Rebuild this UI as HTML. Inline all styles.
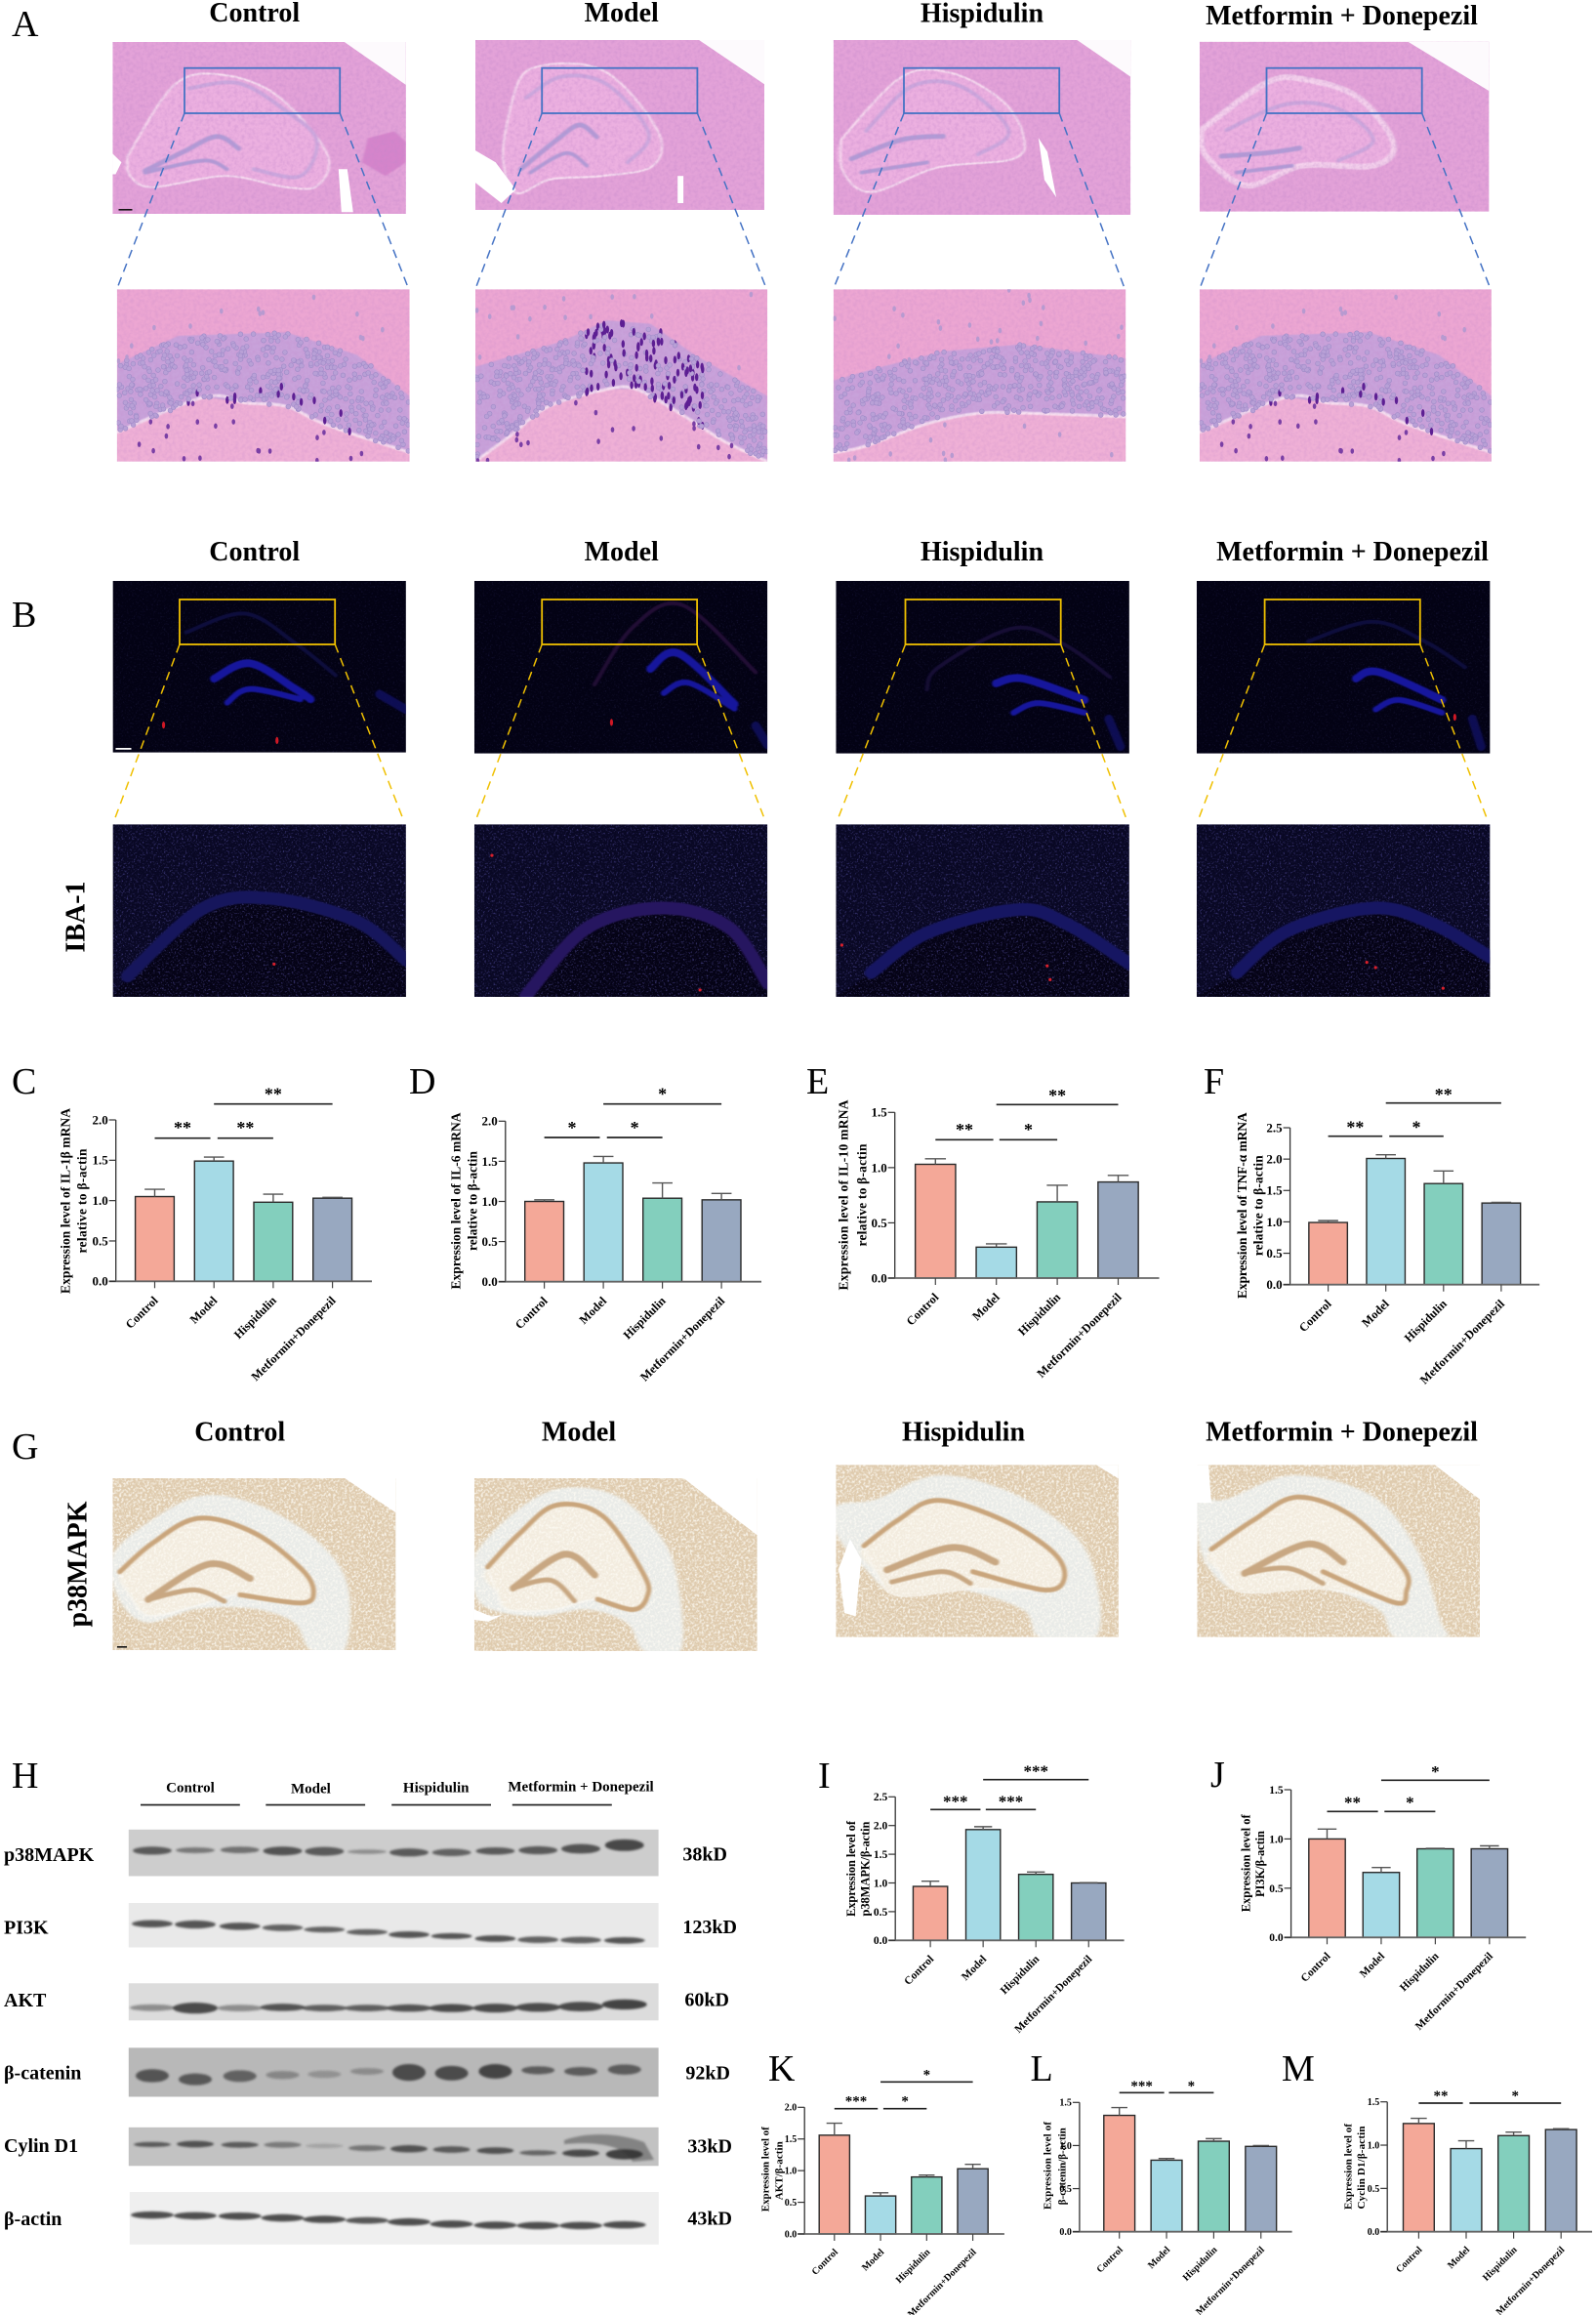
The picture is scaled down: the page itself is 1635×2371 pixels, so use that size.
<!DOCTYPE html>
<html lang="en">
<head>
<meta charset="utf-8">
<title>Hippocampal histology and expression figure</title>
<style>
html,body{margin:0;padding:0;background:#fff;}
svg#figure{display:block;}
#figure text{font-family:"Liberation Serif",serif;fill:#000;}
.panel-letter{font-size:38px;font-weight:400;}
.col-title{font-size:28px;font-weight:700;text-anchor:middle;}
.row-title{font-size:28px;font-weight:700;text-anchor:middle;}
.blot-label{font-size:20px;font-weight:700;}
.blot-head{font-size:15px;font-weight:700;text-anchor:middle;}
</style>
</head>
<body>
<svg id="figure" xmlns="http://www.w3.org/2000/svg" width="1635" height="2371" viewBox="0 0 1635 2371">
  <defs>
    <filter id="grain-pink" x="0" y="0" width="100%" height="100%"><feTurbulence type="fractalNoise" baseFrequency="0.28" numOctaves="2" seed="4"/><feColorMatrix values="0 0 0 0 .55  0 0 0 0 .25  0 0 0 0 .6  1.6 0 0 0 -.62"/></filter>
    <filter id="grain-tan" x="0" y="0" width="100%" height="100%"><feTurbulence type="fractalNoise" baseFrequency="0.42" numOctaves="2" seed="9"/><feColorMatrix values="0 0 0 0 .98  0 0 0 0 .96  0 0 0 0 .9  3 0 0 0 -1.3"/></filter>
    <filter id="grain-blue" x="0" y="0" width="100%" height="100%"><feTurbulence type="fractalNoise" baseFrequency="0.55" numOctaves="2" seed="7"/><feColorMatrix values="0 0 0 0 .16  0 0 0 0 .14  0 0 0 0 .6  3.4 0 0 0 -1.85"/></filter>
    <filter id="soft1" x="-20%" y="-40%" width="140%" height="180%"><feGaussianBlur stdDeviation="1.1"/></filter>
    <filter id="soft-a" x="-10%" y="-10%" width="120%" height="120%"><feGaussianBlur stdDeviation="0.35"/></filter>
    <filter id="soft-g" x="-10%" y="-10%" width="120%" height="120%"><feGaussianBlur stdDeviation="0.6"/></filter>
  </defs>

  <g id="micro-layer"></g>
  <g id="blot-layer"></g>
  <g id="chart-layer"></g>

  <g>
    <text class="panel-letter" x="12" y="37">A</text>
    <text class="panel-letter" x="12" y="642">B</text>
    <text class="panel-letter" x="12" y="1120">C</text>
    <text class="panel-letter" x="419" y="1120">D</text>
    <text class="panel-letter" x="826" y="1120">E</text>
    <text class="panel-letter" x="1233" y="1120">F</text>
    <text class="panel-letter" x="12" y="1494">G</text>
    <text class="panel-letter" x="12" y="1831">H</text>
    <text class="panel-letter" x="838" y="1831">I</text>
    <text class="panel-letter" x="1240" y="1830">J</text>
    <text class="panel-letter" x="787" y="2131">K</text>
    <text class="panel-letter" x="1055.5" y="2131">L</text>
    <text class="panel-letter" x="1313" y="2131">M</text>
  </g>

  <g>
    <text class="col-title" x="260.7" y="22">Control</text>
    <text class="col-title" x="636.7" y="22">Model</text>
    <text class="col-title" x="1006" y="22.5">Hispidulin</text>
    <text class="col-title" x="1374.5" y="25">Metformin + Donepezil</text>
  </g>
  <g>
    <text class="col-title" x="260.7" y="574">Control</text>
    <text class="col-title" x="636.7" y="574">Model</text>
    <text class="col-title" x="1006" y="574">Hispidulin</text>
    <text class="col-title" x="1385.5" y="574">Metformin + Donepezil</text>
  </g>
  <g>
    <text class="col-title" x="245.7" y="1475.5">Control</text>
    <text class="col-title" x="593" y="1475.5">Model</text>
    <text class="col-title" x="987" y="1475.5">Hispidulin</text>
    <text class="col-title" x="1374.5" y="1475.5">Metformin + Donepezil</text>
  </g>
  <text class="row-title" transform="translate(86.6,939) rotate(-90)">IBA-1</text>
  <text class="row-title" transform="translate(88.5,1602) rotate(-90)">p38MAPK</text>

  <g>
    <text class="blot-head" x="195" y="1835.4">Control</text>
    <text class="blot-head" x="318.4" y="1836.4">Model</text>
    <text class="blot-head" x="446.7" y="1835.4">Hispidulin</text>
    <text class="blot-head" x="595" y="1834.4">Metformin + Donepezil</text>
    <rect x="144" y="1847.7" width="101.8" height="1.7" fill="#222"/>
    <rect x="272.3" y="1847.7" width="101.8" height="1.7" fill="#222"/>
    <rect x="401.2" y="1847.7" width="101.8" height="1.7" fill="#222"/>
    <rect x="524.8" y="1847.7" width="102" height="1.7" fill="#222"/>
  </g>
  <g>
    <text class="blot-label" x="4" y="1906.2">p38MAPK</text>
    <text class="blot-label" x="4" y="1980.7">PI3K</text>
    <text class="blot-label" x="4" y="2055.2">AKT</text>
    <text class="blot-label" x="4" y="2129.7">β-catenin</text>
    <text class="blot-label" x="4" y="2204">Cylin D1</text>
    <text class="blot-label" x="4" y="2279">β-actin</text>
  </g>
  <g>
    <text class="blot-label" x="699.4" y="1905.5">38kD</text>
    <text class="blot-label" x="699.4" y="1980">123kD</text>
    <text class="blot-label" x="701.4" y="2054.4">60kD</text>
    <text class="blot-label" x="702.4" y="2129.7">92kD</text>
    <text class="blot-label" x="704.4" y="2204.5">33kD</text>
    <text class="blot-label" x="704.4" y="2278.6">43kD</text>
  </g>
</svg>

<script>
/* ---------- chart data ---------- */
const categories = ['Control', 'Model', 'Hispidulin', 'Metformin+Donepezil'];

const il1bValues = [1.05, 1.49, 0.98, 1.03];
const il1bErrors = [0.09, 0.05, 0.10, 0.01];
const il6Values = [1.00, 1.48, 1.04, 1.02];
const il6Errors = [0.02, 0.08, 0.19, 0.08];
const il10Values = [1.03, 0.28, 0.69, 0.87];
const il10Errors = [0.05, 0.03, 0.15, 0.06];
const tnfValues = [0.99, 2.01, 1.61, 1.30];
const tnfErrors = [0.03, 0.06, 0.20, 0.01];
const p38Values = [0.94, 1.93, 1.15, 1.00];
const p38Errors = [0.09, 0.05, 0.04, 0.005];
const pi3kValues = [1.00, 0.66, 0.90, 0.90];
const pi3kErrors = [0.10, 0.05, 0.005, 0.03];
const aktValues = [1.56, 0.60, 0.90, 1.03];
const aktErrors = [0.19, 0.05, 0.03, 0.07];
const cateninValues = [1.35, 0.83, 1.05, 0.99];
const cateninErrors = [0.09, 0.02, 0.03, 0.01];
const cyclinValues = [1.25, 0.96, 1.11, 1.18];
const cyclinErrors = [0.06, 0.09, 0.04, 0.01];

const ticksTo15 = [0, 0.5, 1.0, 1.5];
const ticksTo20 = [0, 0.5, 1.0, 1.5, 2.0];
const ticksTo25 = [0, 0.5, 1.0, 1.5, 2.0, 2.5];

const barColors = ['#f4a898', '#a5dae6', '#83cfbd', '#98a8c0'];

/* ---------- chart layouts ---------- */
const charts = [
 {id:'il-1b', values:il1bValues, errors:il1bErrors, ticks:ticksTo20, x0:118.7, xEnd:381, y0:1312.3, yTop:1147, cat0:158.5, step:60.7, bw:39.8, fs:12.3, tick:13,
  title:[['Expression level of IL-1β mRNA',66.7,1230,190,13.5],['relative to β-actin',83.6,1230,107,13.5]],
  sig:[[1,3,1130.7,'**',1118],[0,0.94,1165.7,'**',1152.7],[1.06,2,1165.7,'**',1152.7]], star:18},
 {id:'il-6', values:il6Values, errors:il6Errors, ticks:ticksTo20, x0:517.8, xEnd:780, y0:1312.7, yTop:1148.3, cat0:557.6, step:60.5, bw:39.8, fs:12.3, tick:13,
  title:[['Expression level of IL-6 mRNA',466.6,1230,181,13.5],['relative to β-actin',483.5,1230,102,13.5]],
  sig:[[1,3,1130.7,'*',1118],[0,0.94,1165,'*',1152.7],[1.06,2,1165,'*',1152.7]], star:18},
 {id:'il-10', values:il10Values, errors:il10Errors, ticks:ticksTo15, x0:916.7, xEnd:1187.5, y0:1309, yTop:1139.3, cat0:958.3, step:62.4, bw:41.3, fs:12.3, tick:13,
  title:[['Expression level of IL-10 mRNA',863.8,1224,195,13.5],['relative to β-actin',882.4,1224,105,13.5]],
  sig:[[1,3,1131.3,'**',1119.3],[0,0.95,1167.3,'**',1154.7],[1.05,2,1167.3,'*',1154.7]], star:18},
 {id:'tnf-a', values:tnfValues, errors:tnfErrors, ticks:ticksTo25, x0:1321.6, xEnd:1577.1, y0:1315.7, yTop:1155, cat0:1360.6, step:59.1, bw:39.5, fs:12.3, tick:13,
  title:[['Expression level of TNF-α mRNA',1272.2,1234.7,190.7,13.5],['relative to β-actin',1288.6,1234.7,103,13.5]],
  sig:[[1,3,1129.7,'**',1118.3],[0,0.94,1163.7,'**',1152],[1.06,2,1163.7,'*',1152]], star:18},
 {id:'p38mapk', values:p38Values, errors:p38Errors, ticks:ticksTo25, x0:917.2, xEnd:1151.6, y0:1987.3, yTop:1840.3, cat0:953.1, step:54.05, bw:35.3, fs:11.3, tick:11.5,
  title:[['Expression level of',871.7,1914,98,12.5],['p38MAPK/β-actin',886,1914,97,12.5]],
  sig:[[1,3,1822.7,'***',1811.7],[0,0.95,1853.3,'***',1842.3],[1.05,2,1853.3,'***',1842.3]], star:17},
 {id:'pi3k', values:pi3kValues, errors:pi3kErrors, ticks:ticksTo15, x0:1322.6, xEnd:1563.2, y0:1984.3, yTop:1833, cat0:1359.5, step:55.45, bw:37.4, fs:11.3, tick:11.5,
  title:[['Expression level of',1275.9,1908.3,100,12.5],['PI3K/β-actin',1290.4,1909,68,12.5]],
  sig:[[1,3,1823.3,'*',1812],[0,0.94,1855.3,'**',1843.7],[1.06,2,1855.3,'*',1843.7]], star:17},
 {id:'akt', values:aktValues, errors:aktErrors, ticks:ticksTo20, x0:824.2, xEnd:1028.9, y0:2288, yTop:2158.3, cat0:854.8, step:47.26, bw:31.2, fs:10, tick:10,
  title:[['Expression level of',783.5,2221.7,87,11],['AKT/β-actin',797.4,2223.3,60,11]],
  sig:[[1,3,2132.3,'*',2122.3],[0,0.94,2159.7,'***',2149.3],[1.06,2,2159.7,'*',2149.3]], star:15},
 {id:'beta-catenin', values:cateninValues, errors:cateninErrors, ticks:ticksTo15, x0:1105.9, xEnd:1323.6, y0:2285.7, yTop:2153.3, cat0:1146.7, step:48.35, bw:31.8, fs:10, tick:10,
  title:[['Expression level of',1072.4,2218,90,11],['β-catenin/β-actin',1087.5,2218.7,79,11]],
  sig:[[0,0.95,2143.3,'***',2133.7],[1.05,2,2143.3,'*',2133.7]], star:15},
 {id:'cyclin-d1', values:cyclinValues, errors:cyclinErrors, ticks:ticksTo15, x0:1421.2, xEnd:1631, y0:2285.7, yTop:2152.7, cat0:1453.4, step:48.6, bw:31.8, fs:10, tick:10,
  title:[['Expression level of',1380.5,2219,88,11],['Cyclin D1/β-actin',1393.8,2220,85,11]],
  sig:[[0,0.93,2154,'**',2144],[1.07,3,2154,'*',2144]], star:15}
];

const NS = 'http://www.w3.org/2000/svg';
function make(tag, attrs, parent) {
  const el = document.createElementNS(NS, tag);
  for (const k in attrs) el.setAttribute(k, attrs[k]);
  if (parent) parent.appendChild(el);
  return el;
}

/* ---------- bar charts ---------- */
function drawChart(c) {
  const layer = document.getElementById('chart-layer');
  const g = make('g', {}, layer);
  
  
  const yMax = Math.max.apply(null, c.ticks);
  const yScale = v => c.y0 - (v / yMax) * (c.y0 - c.yTop);
  const xScale = i => c.cat0 + i * c.step;

  c.values.forEach((v, i) => {
    const bar = make('rect', {x: xScale(i) - c.bw / 2, y: yScale(v), width: c.bw, height: c.y0 - yScale(v), fill: barColors[i], stroke: '#2a2a2a', 'stroke-width': 1.4}, g);
    
    
    const topY = yScale(v + c.errors[i]);
    const capW = c.bw * 0.26;
    const err = make('path', {d: 'M' + xScale(i) + ',' + yScale(v) + 'V' + topY + 'M' + (xScale(i) - capW) + ',' + topY + 'H' + (xScale(i) + capW), fill: 'none', stroke: '#555', 'stroke-width': 1.4}, g);
    
    
  });

  const yAxis = make('line', {x1: c.x0, x2: c.x0, y1: c.yTop, y2: c.y0, stroke: '#333', 'stroke-width': 1.3}, g);
  
  
  const xAxis = make('line', {x1: c.x0 - 7, x2: c.xEnd, y1: c.y0, y2: c.y0, stroke: '#666', 'stroke-width': 1.8}, g);
  
  

  c.ticks.forEach(t => {
    const tm = make('line', {x1: c.x0 - 7, x2: c.x0, y1: yScale(t), y2: yScale(t), stroke: '#333', 'stroke-width': 1.2}, g);
    
    
    const lbl = make('text', {x: c.x0 - 8, y: yScale(t) + c.tick * 0.34, 'text-anchor': 'end', 'font-size': c.tick, 'font-weight': 700}, g);
    lbl.textContent = t.toFixed(1);
    
    
  });

  categories.forEach((name, i) => {
    const tm = make('line', {x1: xScale(i), x2: xScale(i), y1: c.y0, y2: c.y0 + 7, stroke: '#444', 'stroke-width': 1.2}, g);
    
    
    const lx = xScale(i) + 4, ly = c.y0 + 13 + c.fs * 0.6;
    const lbl = make('text', {x: lx, y: ly, 'text-anchor': 'end', 'font-size': c.fs, 'font-weight': 700, transform: 'rotate(-45 ' + lx + ' ' + ly + ')'}, g);
    lbl.textContent = name;
    
    
  });

  c.title.forEach((t, i) => {
    const lbl = make('text', {transform: 'translate(' + (t[1] + t[4] * 0.36) + ',' + t[2] + ') rotate(-90)', 'text-anchor': 'middle', 'font-size': t[4], 'font-weight': 700, textLength: t[3], lengthAdjust: 'spacing'}, g);
    lbl.textContent = t[0];
    
    
  });

  c.sig.forEach(s => {
    const line = make('line', {x1: xScale(s[0]), x2: xScale(s[1]), y1: s[2], y2: s[2], stroke: '#222', 'stroke-width': 1.7}, g);
    
    
    const star = make('text', {x: (xScale(s[0]) + xScale(s[1])) / 2, y: s[4] + c.star * 0.47, 'text-anchor': 'middle', 'font-size': c.star, 'font-weight': 700}, g);
    star.textContent = s[3];
    
    
  });
}
charts.forEach(drawChart);

/* ---------- drawing helpers for micrographs ---------- */
function smooth(p, closed) {
  const n = p.length, at = i => closed ? p[(i + n) % n] : p[Math.max(0, Math.min(n - 1, i))];
  let d = 'M' + p[0][0] + ',' + p[0][1];
  const end = closed ? n : n - 1;
  for (let i = 0; i < end; i++) {
    const a = at(i - 1), b = at(i), c = at(i + 1), e = at(i + 2);
    d += 'C' + (b[0] + (c[0] - a[0]) / 6).toFixed(2) + ',' + (b[1] + (c[1] - a[1]) / 6).toFixed(2) + ' ' +
         (c[0] - (e[0] - b[0]) / 6).toFixed(2) + ',' + (c[1] - (e[1] - b[1]) / 6).toFixed(2) + ' ' + c[0] + ',' + c[1];
  }
  return d + (closed ? 'Z' : '');
}
function rng(seed) { let s = seed; return () => (s = (s * 1664525 + 1013904223) % 4294967296) / 4294967296; }
function unit(parent) { return make('svg', {x: 0, y: 0, width: '100%', height: '100%', viewBox: '0 0 100 100', preserveAspectRatio: 'none'}, parent); }
function stroke(parent, pts, color, w, op) { return make('path', {d: smooth(pts), fill: 'none', stroke: color, 'stroke-width': w, 'stroke-linecap': 'round', 'stroke-linejoin': 'round', opacity: op == null ? 1 : op, 'vector-effect': 'non-scaling-stroke'}, parent); }
function area(parent, d, color, op) { return make('path', {d: d, fill: color, opacity: op == null ? 1 : op}, parent); }
function panel(box, name) {
  const el = make('svg', {x: box[0], y: box[1], width: box[2], height: box[3]}, document.getElementById('micro-layer'));
  
  
  return el;
}
function zoomFrame(rectBox, lowBox, color, name) {
  const layer = document.getElementById('micro-layer');
  const frame = make('rect', {x: rectBox[0], y: rectBox[1], width: rectBox[2], height: rectBox[3], fill: 'none', stroke: color, 'stroke-width': 1.8}, layer);
  
  
  const endY = lowBox[1] - 3;
  const dash = make('path', {d: 'M' + rectBox[0] + ',' + (rectBox[1] + rectBox[3]) + 'L' + (lowBox[0] + 1) + ',' + endY + 'M' + (rectBox[0] + rectBox[2]) + ',' + (rectBox[1] + rectBox[3]) + 'L' + (lowBox[0] + lowBox[2] - 2) + ',' + endY, fill: 'none', stroke: color, 'stroke-width': 1.5, 'stroke-dasharray': '9 6'}, layer);
  
  
}

/* ---------- panel A: H&E ---------- */
const heTopBoxes = [[115.4,43,300.5,176],[487,41,296,174],[853.8,41,304.4,179],[1228.9,42.7,296.5,174]];
const heLowBoxes = [[119.8,296.3,299.8,176.4],[487,296.3,299.2,176.4],[853.8,296.3,299.5,176.4],[1228.9,296.3,299,176.4]];
const heRects = [[189,69.7,159.2,46.3],[555.2,69.7,159.2,46.3],[926,69.7,159.2,46.3],[1297.5,69.7,159.2,46.3]];
const heShapes = [
 {blob:[[5,66.5],[21,25],[37,19],[56,31],[73,64.6],[70,83.5],[59,84.5],[38.5,78],[13.8,84.5],[6,78]],
  ca:[[26,27],[43,24],[59,40],[69.5,57],[64,78],[48,74]], dg1:[[11,75],[24,64],[35.5,55],[43,62]], dg2:[[11,76],[31,69],[39,74]],
  corner:'M79,0L100,25V0Z', whites:['M77,74L80,74L82,99L78,99Z','M0,65L3,70L1,77L0,77Z'], blotch:'M87,56L96,52L100,58V70L93,78L85,70Z'},
 {blob:[[12,40],[19,17],[44,17.7],[63,53],[61.5,74],[44,80],[26,82],[14,90],[9.5,68.5]],
  ca:[[17.5,34],[30,21.5],[45.7,26.3],[60,55],[52.7,72]], dg1:[[15.7,76],[28,59],[36,50],[42,57]], dg2:[[19,78],[31.3,66.6],[38.6,74]],
  corner:'M77.4,0L100,26V0Z', whites:['M0,65L7,72L14,88L9,96L0,84Z','M70,80L72,80L72,96L70,96Z'], blotch:''},
 {blob:[[2.5,57],[23,21],[40,19],[57,35],[64,55],[60.6,68],[35,73],[13,87],[3.4,76]],
  ca:[[11,52],[26.5,26.4],[43.5,27],[59,52],[48.6,65.5]], dg1:[[6,68],[23,57],[37,55]], dg2:[[9.4,75.8],[31.6,70]],
  corner:'M82,0L100,21V0Z', whites:['M69,56L72,64L75,90L71,80Z'], blotch:''},
 {blob:[[0.5,52],[23.3,24],[37,22.4],[55,33],[67,60],[60,73],[35.6,73],[16.3,84.7],[2.3,67.4]],
  ca:[[9.3,52],[30,36.8],[48,39.7],[60,58],[48,70]], dg1:[[7.5,67.4],[23,65.5],[34.7,62.6]], dg2:[[12.8,77],[32,73]],
  corner:'M72,0L100,29V0Z', whites:[], blotch:''}
];
heShapes.forEach((s, i) => {
  const p = panel(heTopBoxes[i], 'he-overview-' + categories[i].toLowerCase());
  make('rect', {width: '100%', height: '100%', fill: '#e3a2d8'}, p);
  const u = unit(p);
  const soft = make('g', {filter: 'url(#soft-a)'}, u);
  if (s.blotch) area(soft, s.blotch, '#d584cb');
  area(soft, smooth(s.blob, true), '#ecb0e0');
  stroke(soft, s.blob.concat([s.blob[0]]), '#fbeaf6', i === 3 ? 6 : 1.8, i === 3 ? .6 : .9);
  stroke(soft, s.ca, '#cba7dd', 4);
  stroke(soft, s.dg1, '#b09bd6', 5);
  stroke(soft, s.dg2, '#b09bd6', 4);
  make('rect', {width: '100%', height: '100%', filter: 'url(#grain-pink)', opacity: .5}, p);
  const w = unit(p);
  area(w, s.corner, '#fdfafd');
  s.whites.forEach(d => area(w, d, '#fff'));
});
make('rect', {x: 121.5, y: 214, width: 14, height: 1.6, fill: '#111'}, document.getElementById('micro-layer'));

const heBandTop = [[[0,43.5],[21,27],[58,25],[82,38],[100,62]], [[0,45],[30,30],[45,18],[60,20],[75,38],[100,62]], [[0,53],[15,45.6],[37.7,36],[63.8,32],[100,40]], [[0,43.5],[21,27],[58,25],[82,38],[100,62]]];
const heBandBot = [[[0,83],[30,62.5],[44,66],[58,68],[72,79],[100,94.7]], [[0,100],[12,85],[25,68],[45,58],[55,58],[70,72],[85,88],[100,100]], [[0,95],[11,91],[32,78],[49.6,72],[67,72],[100,74]], [[0,83],[30,62.5],[44,66],[58,68],[72,79],[100,94.7]]];
function along(poly, x) {
  for (let i = 0; i < poly.length - 1; i++) if (x <= poly[i + 1][0]) {
    const a = poly[i], b = poly[i + 1];
    return a[1] + (b[1] - a[1]) * (x - a[0]) / (b[0] - a[0]);
  }
  return poly[poly.length - 1][1];
}
heLowBoxes.forEach((box, i) => {
  const p = panel(box, 'he-zoom-' + categories[i].toLowerCase());
  const W = box[2] / 100, H = box[3] / 100;
  make('rect', {width: '100%', height: '100%', fill: '#eca6d2'}, p);
  const u = unit(p);
  const soft = make('g', {filter: 'url(#soft-a)'}, u);
  const top = heBandTop[i], bot = heBandBot[i];
  area(soft, 'M0,100' + bot.map(q => 'L' + q[0] + ',' + q[1]).join('') + 'L100,100Z', '#efb0d6');
  area(soft, 'M' + top.map(q => q[0] + ',' + q[1]).join('L') + 'L' + bot.slice().reverse().map(q => q[0] + ',' + q[1]).join('L') + 'Z', '#c8a2da');
  stroke(soft, bot, '#fff1f8', 3, .75);
  make('rect', {width: '100%', height: '100%', filter: 'url(#grain-pink)', opacity: .35}, p);
  const r = rng(17 + (i === 3 ? 0 : i));
  for (let k = 0; k < 520; k++) {
    const x = r() * 100, s = r(), t = along(top, x), b = along(bot, x), y = t + s * (b - t);
    const hot = i === 1 ? (x > 38 && x < 78 && r() < .5) : (i === 2 ? false : (s > .72 && x > 22 && x < 85 && r() < .14));
    make('ellipse', {cx: (x * W).toFixed(1), cy: (y * H).toFixed(1), rx: hot ? 1.7 : 2.4, ry: hot ? 4 : 2.4, fill: hot ? '#5d1f93' : '#b8a0d6', stroke: hot ? 'none' : '#a08bc8', 'stroke-width': .6}, p);
  }
  for (let k = 0; k < 34; k++) {
    const x = r() * 100, below = r() < .5, y = below ? along(bot, x) + r() * (100 - along(bot, x)) : r() * along(top, x);
    make('ellipse', {cx: (x * W).toFixed(1), cy: (y * H).toFixed(1), rx: 1.8, ry: 2.8, fill: below && i !== 2 ? '#7a3fa5' : '#b79ad0'}, p);
  }
});
heRects.forEach((r, i) => zoomFrame(r, heLowBoxes[i], '#4472c4', 'he-' + categories[i].toLowerCase()));

/* ---------- panel B: immunofluorescence ---------- */
const ifTopBoxes = [[115.6,595,300.3,175.7],[485.9,595,300.3,176.7],[856.4,595,300.5,176.7],[1225.9,595,300.5,176.7]];
const ifLowBoxes = [[115.6,844.3,300.3,176.7],[485.9,844.3,300.3,176.7],[856.4,844.3,300.5,176.7],[1225.9,844.3,300.5,176.7]];
const ifRects = [[184,614,159.2,46],[555.2,614,158.9,46],[927.5,614,159.2,46],[1295.6,614,159.2,46]];
const ifShapes = [
 {arch:[[25,30],[45,19],[62,36],[76,55]], archColor:'#0e0c3c', dg1:[[34.5,57],[46.7,48],[62.3,63],[67.5,69]], dg2:[[39,71],[46.7,63],[64,69]], extra:[[91,66],[100,75]], reds:[[17.3,84],[56,93]]},
 {arch:[[41,60],[54,27],[71,14],[96,53]], archColor:'#220c36', dg1:[[60,51],[69.7,42],[88.8,71.4]], dg2:[[64.6,65],[73,59],[88.8,74]], extra:[[96,84],[100,95]], reds:[[46.8,82]]},
 {arch:[[31,63],[35,50],[60.5,27.4],[78,37],[93.4,55.7]], archColor:'#140c34', dg1:[[54.5,59.4],[64,56.6],[84.8,69]], dg2:[[60.5,76.4],[69,70.8],[84.8,76.4]], extra:[[93,80],[97,96]], reds:[]},
 {arch:[[38,35],[60,23.6],[77.7,35],[91.5,50]], archColor:'#0e0c3c', dg1:[[54.3,56.6],[62,52.8],[83.7,69]], dg2:[[61,74.5],[69,69],[83.7,76.4]], extra:[[94,80],[97,96]], reds:[[88,79]]}
];
ifShapes.forEach((s, i) => {
  const p = panel(ifTopBoxes[i], 'if-overview-' + categories[i].toLowerCase());
  make('rect', {width: '100%', height: '100%', fill: '#030214'}, p);
  make('rect', {width: '100%', height: '100%', filter: 'url(#grain-blue)', opacity: .14}, p);
  const u = unit(p);
  const soft = make('g', {filter: 'url(#soft-a)'}, u);
  stroke(soft, s.arch, s.archColor, 4);
  stroke(soft, s.dg1, '#15159c', 8);
  stroke(soft, s.dg2, '#15159c', 6);
  stroke(soft, s.extra, '#100e62', 9, .8);
  s.reds.forEach(q => {
    make('ellipse', {cx: q[0] * ifTopBoxes[i][2] / 100, cy: q[1] * ifTopBoxes[i][3] / 100, rx: 1.6, ry: 3.6, fill: '#d01825'}, p);
  });
});
make('rect', {x: 118.5, y: 766, width: 16, height: 1.8, fill: '#fff'}, document.getElementById('micro-layer'));

const ifLowArches = [
 [[5,88],[31,48.5],[54,43],[83,56],[100,78.7]],
 [[17.6,99.4],[38.5,60],[64.6,48.5],[87,60],[100,92]],
 [[12,86],[31,63],[62,49.4],[79,58],[100,80.7]],
 [[13.7,86],[31,61.7],[60.4,48.5],[81,58],[100,77]]
];
const ifLowColors = ['#17165c', '#281760', '#191862', '#191862'];
const ifLowReds = [[[55,81]], [[77,96],[6,18]], [[2,70],[72,82],[73,90]], [[58,80],[61,83],[84,95]]];
ifLowArches.forEach((a, i) => {
  const p = panel(ifLowBoxes[i], 'if-zoom-' + categories[i].toLowerCase());
  make('rect', {width: '100%', height: '100%', fill: '#090824'}, p);
  const u = unit(p);
  area(u, 'M0,100L' + a.map(q => q[0] + ',' + q[1]).join('L') + 'L100,100Z', '#050316');
  make('rect', {width: '100%', height: '100%', filter: 'url(#grain-blue)', opacity: .55}, p);
  const v = unit(p);
  const soft = make('g', {filter: 'url(#soft-a)'}, v);
  stroke(soft, a, ifLowColors[i], 13);
  ifLowReds[i].forEach(q => {
    make('circle', {cx: q[0] * ifLowBoxes[i][2] / 100, cy: q[1] * ifLowBoxes[i][3] / 100, r: 1.6, fill: '#d8202c'}, p);
  });
});
ifRects.forEach((r, i) => zoomFrame(r, ifLowBoxes[i], '#f0c000', 'if-' + categories[i].toLowerCase()));

/* ---------- panel G: p38MAPK IHC ---------- */
const ihcBoxes = [[115.4,1514,290,176],[485.9,1514,289.8,177],[856.4,1500.3,289.5,176.4],[1226.5,1500.3,289.5,176.4]];
const ihcShapes = [
 {halo:[[0,45],[14,24],[32,10],[52,16],[72,36],[83,62],[82,100],[70,100],[64,84],[50,76],[30,76],[12,84],[2,70]],
  inner:[[2.5,54.5],[14,37.9],[30.3,23.3],[50,31.8],[66.6,52.7],[71,66],[66.6,72.6],[44.9,67.8],[30,74],[13,80],[6,68]],
  arch:[[2.5,54.5],[14,37.9],[30.3,23.3],[50,31.8],[66.6,52.7],[71,66],[66.6,72.6],[44.9,67.8]],
  dg1:[[48.6,58.3],[34,50],[12.5,70.6]], dg2:[[12.5,70.6],[28.7,65],[39.5,71.6]], corner:'M82,0L100,20V0Z', whites:[]},
 {halo:[[0,45],[14,20],[30,6],[50,10],[66,34],[72,60],[73,100],[60,100],[54,84],[40,76],[22,80],[6,76],[0,66]],
  inner:[[4.7,51.4],[29,15.6],[45.5,22],[60,56],[61,69],[56,76],[43.5,70],[28,76],[12,76],[8,66]],
  arch:[[4.7,51.4],[16,32],[29,15.6],[45.5,22],[60,56],[61,69],[56,76],[43.5,70]],
  dg1:[[42.6,56],[31.8,44],[13.7,63.6]], dg2:[[13.7,63.6],[27,59],[35.4,71]], corner:'M74,0L100,33V0Z', whites:['M0,76L6,80L10,79L5,83L0,82Z']},
 {halo:[[0,24],[14,20],[36,6],[62,16],[84,40],[92,66],[92,100],[72,100],[66,84],[42,72],[22,76],[10,60],[0,40]],
  inner:[[9.9,47],[36,20.6],[59,32],[77,51],[80.8,66],[73.6,72.6],[48.4,72],[22,76],[14,62]],
  arch:[[9.9,47],[22,32],[36,20.6],[59,32],[77,51],[80.8,66],[73.6,72.6],[48.4,62]],
  dg1:[[56.5,56.5],[41,48],[18,61]], dg2:[[19.7,68],[37.7,62],[47.6,68.8]], corner:'M92,0L100,8V0Z', whites:['M5,43L9,55L8,70L7,88L3,86L1,60Z']},
 {halo:[[0,20],[10,20],[34,6],[62,18],[78,50],[86,90],[88,100],[70,100],[64,84],[44,72],[16,74],[4,60],[0,40]],
  inner:[[5,49],[35.5,18.7],[55,30],[73,60],[74,73.5],[70,80],[44.5,72],[16,74],[8,62]],
  arch:[[5,49],[20,32],[35.5,18.7],[55,30],[73,60],[74,73.5],[70,80],[44.5,62]],
  dg1:[[51.7,56.5],[39,46],[16.7,63]], dg2:[[16.7,63],[32,60],[44.5,68.8]], corner:'M84,0L100,20V0Z', whites:['M0,0H4L5,22L0,22Z']}
];
ihcShapes.forEach((s, i) => {
  const p = panel(ihcBoxes[i], 'ihc-p38mapk-' + categories[i].toLowerCase());
  make('rect', {width: '100%', height: '100%', fill: '#dfcbae'}, p);
  const u = unit(p);
  const soft = make('g', {filter: 'url(#soft-g)'}, u);
  area(soft, smooth(s.halo, true), '#e9ebe8');
  area(soft, smooth(s.inner, true), '#f3ecdf');
  make('rect', {width: '100%', height: '100%', filter: 'url(#grain-tan)', opacity: .85}, p);
  const v = unit(p);
  const band = make('g', {filter: 'url(#soft-a)'}, v);
  stroke(band, s.inner.concat([s.inner[0]]), '#fbf9f5', 1.6, .7);
  stroke(band, s.arch, '#c9a57c', 5);
  stroke(band, s.dg1, '#c8a782', 7);
  stroke(band, s.dg2, '#c8a782', 5);
  area(v, s.corner, '#fff');
  s.whites.forEach(d => area(v, d, '#fff'));
});
make('rect', {x: 120, y: 1686, width: 10, height: 1.6, fill: '#111'}, document.getElementById('micro-layer'));

/* ---------- panel H: western blots ---------- */
const laneCenters = [156, 200, 245.7, 289.5, 332.3, 376, 419, 462.6, 507.4, 551.2, 595, 639.7];
const blotRows = [
 {name:'p38mapk', box:[131.8,1873.8,542.8,47.7], bg:'#cdcdcd', rx:20,
  y:[283,282,281,284,285,286,288,288,284,282,278,268], t:[20,14,16,22,22,10,20,18,18,20,24,30], d:[.72,.52,.58,.76,.72,.4,.72,.66,.72,.72,.76,.82]},
 {name:'pi3k', box:[131.8,1949,542.8,45.5], bg:'#e9e9e9', rx:21,
  y:[484,486,491,495,500,507,514,518,525,528,529,530], t:[18,20,18,16,14,14,16,14,16,16,16,16], d:[.78,.78,.78,.72,.72,.72,.78,.78,.78,.72,.72,.78]},
 {name:'akt', box:[131.8,2031.3,542.8,38], bg:'#dcdcdc', rx:23,
  y:[715,716,716,714,716,716,716,716,716,714,712,706], t:[16,28,16,18,16,16,18,20,22,22,24,26], d:[.45,.82,.45,.78,.72,.72,.78,.82,.82,.82,.82,.88]},
 {name:'beta-catenin', box:[131.8,2097.3,542.8,50.2], bg:'#b8b8b8', rx:17,
  y:[902,912,903,900,898,890,893,895,890,887,890,885], t:[34,30,30,20,18,16,44,38,38,20,22,26], d:[.72,.68,.62,.35,.28,.32,.78,.78,.82,.65,.65,.65]},
 {name:'cyclin-d1', box:[131.8,2178.8,542.8,39.5], bg:'#c2c2c2', rx:19,
  y:[1091,1090,1092,1092,1095,1101,1103,1105,1108,1114,1115,1118], t:[12,16,14,14,10,14,18,16,16,12,18,26], d:[.68,.75,.68,.48,.22,.5,.75,.68,.75,.62,.8,.85]},
 {name:'beta-actin', box:[132.8,2245,542,53.8], bg:'#efefef', rx:22,
  y:[1285,1287,1288,1293,1297,1300,1304,1310,1313,1314,1314,1312], t:[18,18,18,18,18,16,18,18,18,18,18,18], d:[.82,.82,.82,.82,.82,.78,.82,.82,.82,.82,.82,.82]}
];
blotRows.forEach(row => {
  const layer = document.getElementById('blot-layer');
  const g = make('g', {}, layer);
  
  
  make('rect', {x: row.box[0], y: row.box[1], width: row.box[2], height: row.box[3], fill: row.bg}, g);
  const bands = make('g', {filter: 'url(#soft1)'}, g);
  if (row.name === 'cyclin-d1') {
    make('path', {d: 'M578,2192C603,2183 636,2185 660,2194L670,2212L648,2214C640,2197 610,2193 578,2196Z', fill: '#6a6a6a', opacity: .7}, bands);
  }
  laneCenters.forEach((cx, i) => {
    const band = make('ellipse', {cx: cx, cy: 1790 + row.y[i] / 2.685, rx: row.rx, ry: row.t[i] / 5.37 + .4, fill: '#2c2c2c', opacity: row.d[i]}, bands);
    
    
  });
});
</script>
</body>
</html>
